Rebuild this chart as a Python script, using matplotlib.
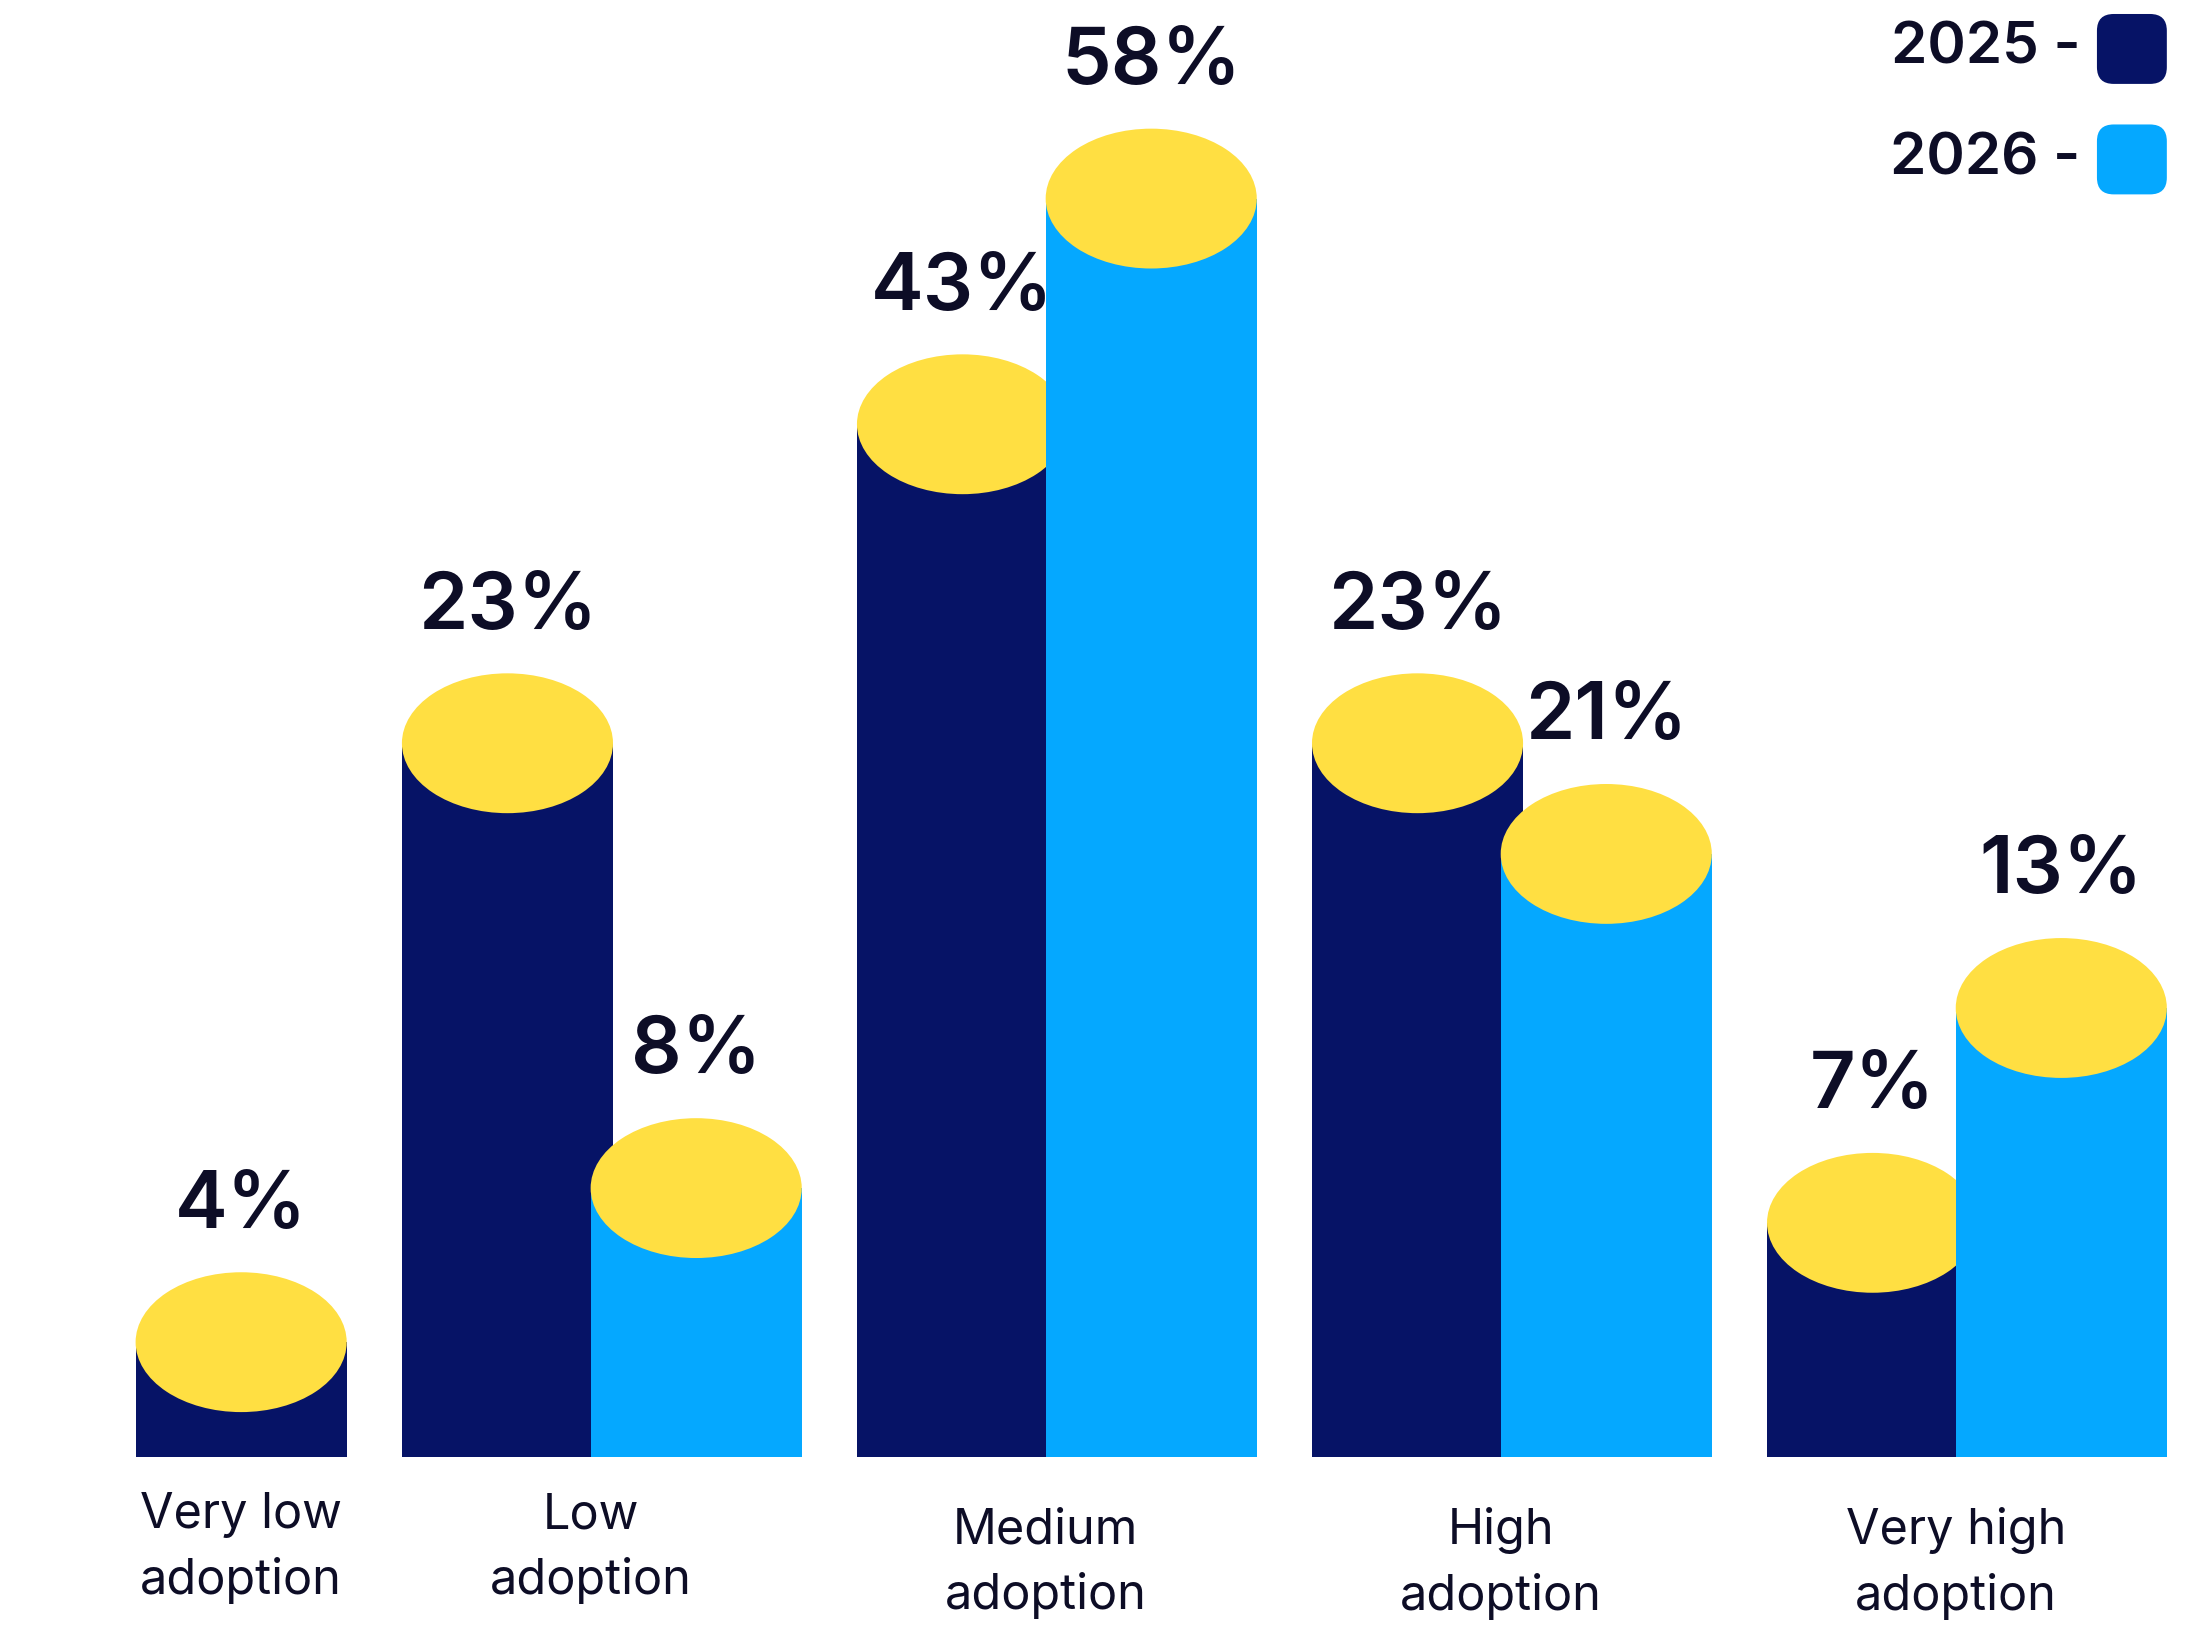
import matplotlib.pyplot as plt
from matplotlib.patches import Ellipse, Rectangle, FancyBboxPatch
import numpy as np

categories = ['Very low\nadoption', 'Low\nadoption', 'Medium\nadoption',
              'High\nadoption', 'Very high\nadoption']
values_2025 = [4, 23, 43, 23, 7]
values_2026 = [None, 8, 58, 21, 13]
# column heights as drawn in the graphic (the artwork is not to scale)
drawn_2025 = [5.3, 32.9, 47.6, 32.9, 10.8]
drawn_2026 = [None, 12.4, 58.0, 27.8, 20.7]
years = ['2025', '2026']

navy = '#061366'
blue = '#05A8FF'
yellow = '#FFDF42'
ink = '#0D0D26'

W, H = 1568, 1162          # layout units
base = 120                 # baseline height above bottom
ppu = 900 / 58             # layout units per drawn unit
bw, step, gap, x0 = 151, 135, 39.5, 97
cap_h = 100 / ppu

fig = plt.figure(figsize=(21.92, 16.25), dpi=100)
ax = fig.add_axes([0, 0, 1, 1])
ax.set_xlim(0, W)
ax.set_ylim(-base / ppu, (H - base) / ppu)
ax.axis('off')

px = fig.add_axes([0, 0, 1, 1])
px.set_xlim(0, W)
px.set_ylim(H, 0)
px.axis('off')
px.patch.set_alpha(0)

x = x0
for i, cat in enumerate(categories):
    series = [(drawn_2025[i], values_2025[i], navy),
              (drawn_2026[i], values_2026[i], blue)]
    series = [s for s in series if s[0] is not None]
    n = len(series)
    for j, (h, v, col) in enumerate(series):
        left = x + j * step
        z = 2 * j
        ax.add_patch(Rectangle((left, 0), bw, h, color=col, lw=0, zorder=z + 1))
        ax.add_patch(Ellipse((left + bw / 2, h), bw, cap_h, color=yellow,
                             lw=0, zorder=z + 2))
        ax.text(left + bw / 2, h + 97 / ppu, f'{v}%', ha='center', va='center',
                fontsize=57, fontweight='semibold', family='Inter', color=ink,
                zorder=10)
    width = bw + (n - 1) * step
    yc = 1107 if i < 2 else 1118
    px.text(x + width / 2 - 8 * (n - 1), yc, cat, ha='center', va='center',
            fontsize=35, family='Inter', color=ink, linespacing=1.5)
    x += width + gap

for k, (yr, col) in enumerate(zip(years, [navy, blue])):
    yc = 35 + k * 79
    px.text(1488, yc, f'{yr} -', ha='right', va='center', fontsize=42,
            fontweight='semibold', family='Inter', color=ink)
    px.add_patch(FancyBboxPatch((1500, yc - 25), 50, 50,
                                boxstyle='round,pad=0,rounding_size=12',
                                color=col, lw=0))

fig.savefig('out.png', dpi=100)
